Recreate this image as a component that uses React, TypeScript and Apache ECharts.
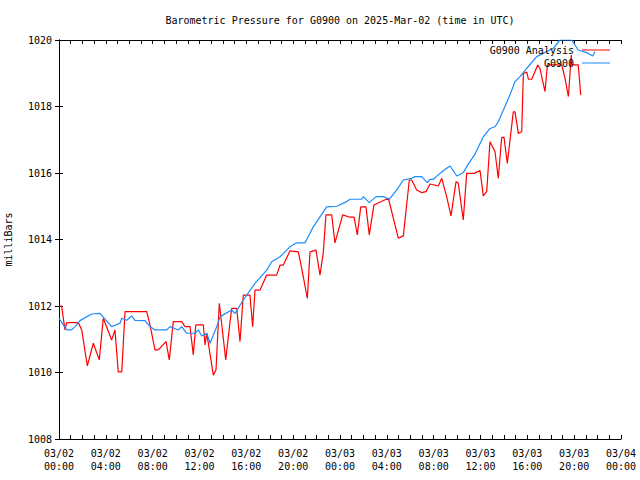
import React, { useEffect, useRef } from "react";
import * as echarts from "echarts";

// Hours since 2025-03-02 00:00 UTC and pressure in milliBars
const analysisHours = [
  0, 0.23, 0.37, 0.51, 0.66, 1.65, 1.94, 2.42, 2.93, 3.44, 3.78, 4.5, 4.78, 5.06, 5.36, 5.64,
  7.49, 7.77, 8.2, 8.48, 9.14, 9.42, 9.76, 10.48, 10.76, 11.19, 11.47, 11.68, 12.33, 12.47,
  12.62, 13.18, 13.41, 13.69, 13.81, 14.24, 14.61, 14.75, 15.18, 15.46, 15.74, 16.31, 16.54,
  16.74, 17.17, 17.74, 18.59, 18.88, 19.16, 19.73, 20.44, 20.73, 21.21, 21.44, 21.95, 22.29,
  22.57, 22.8, 23.29, 23.57, 24.23, 24.85, 25.2, 25.48, 25.77, 26.22, 26.5, 26.9, 28.13, 28.98,
  29.41, 29.92, 30.12, 30.55, 30.98, 31.35, 31.69, 32.4, 32.69, 33.11, 33.48, 33.91, 34.1,
  34.53, 34.82, 35.45, 35.96, 36.24, 36.53, 36.81, 37.24, 37.52, 37.81, 38.01, 38.29, 38.8,
  38.95, 39.23, 39.52, 39.66, 39.95, 40.09, 40.38, 40.89, 41.08, 41.51, 41.71, 42.94, 43.22,
  43.51, 43.75, 43.79, 44.35, 44.56,
];
const analysisValues = [
  1012.0, 1012.0, 1011.63, 1011.28, 1011.5, 1011.5, 1011.28, 1010.2, 1010.88, 1010.38, 1011.63,
  1010.98, 1011.28, 1010.02, 1010.02, 1011.83, 1011.83, 1011.43, 1010.68, 1010.68, 1010.93,
  1010.38, 1011.53, 1011.53, 1011.38, 1011.38, 1010.53, 1011.43, 1011.43, 1010.83, 1011.18,
  1009.92, 1010.08, 1012.08, 1011.73, 1010.38, 1011.53, 1011.93, 1011.93, 1010.93, 1012.33,
  1012.33, 1011.38, 1012.48, 1012.48, 1012.93, 1012.93, 1013.23, 1013.23, 1013.66, 1013.63,
  1013.13, 1012.23, 1013.63, 1013.68, 1012.93, 1013.6, 1014.74, 1014.74, 1013.9, 1014.74,
  1014.67, 1014.67, 1014.14, 1014.98, 1014.98, 1014.14, 1015.04, 1015.24, 1014.04, 1014.11,
  1015.79, 1015.79, 1015.49, 1015.41, 1015.44, 1015.67, 1015.61, 1015.84, 1015.29, 1014.71,
  1015.74, 1015.7, 1014.59, 1015.99, 1015.99, 1016.07, 1015.31, 1015.44, 1016.94, 1016.64,
  1015.84, 1017.07, 1017.07, 1016.29, 1017.84, 1017.84, 1017.19, 1017.24, 1018.99, 1019.04,
  1018.82, 1018.82, 1019.25, 1019.14, 1018.45, 1019.25, 1019.25, 1018.85, 1018.3, 1019.55,
  1019.25, 1019.25, 1018.35,
];

const stationHours = [
  0, 0.66, 1.08, 1.37, 1.79, 2.79, 3.5, 4.5, 5.21, 5.36, 5.78, 6.21, 6.49, 7.35, 7.77, 8.2,
  9.2, 9.48, 10.19, 10.48, 10.91, 11.62, 11.9, 12.19, 12.62, 12.9, 13.47, 13.76, 14.75, 15.03,
  15.74, 16.74, 17.74, 18.17, 18.88, 19.73, 20.3, 21.01, 21.72, 22.86, 23.72, 24.57, 24.85,
  25.85, 25.99, 26.5, 27.08, 27.7, 28.21, 28.84, 29.41, 30.12, 30.41, 30.98, 31.46, 31.69,
  31.97, 32.54, 33.11, 33.4, 33.97, 34.53, 34.82, 35.53, 36.24, 36.81, 37.24, 37.52, 37.95,
  38.52, 38.95, 39.37, 39.95, 40.8, 42.22, 42.79, 43.79, 44.35, 45.07, 45.58, 45.78,
];
const stationValues = [
  1011.63, 1011.28, 1011.28, 1011.38, 1011.56, 1011.76, 1011.78, 1011.38, 1011.48, 1011.63,
  1011.57, 1011.7, 1011.57, 1011.56, 1011.38, 1011.28, 1011.28, 1011.38, 1011.28, 1011.38,
  1011.18, 1011.18, 1011.28, 1011.1, 1011.18, 1010.88, 1011.38, 1011.68, 1011.88, 1011.78,
  1012.18, 1012.68, 1013.08, 1013.33, 1013.48, 1013.78, 1013.9, 1013.9, 1014.38, 1014.98,
  1015.0, 1015.14, 1015.21, 1015.21, 1015.29, 1015.11, 1015.29, 1015.29, 1015.21, 1015.49,
  1015.79, 1015.84, 1015.89, 1015.89, 1015.71, 1015.81, 1015.81, 1015.99, 1016.14, 1016.21,
  1015.91, 1016.01, 1016.19, 1016.57, 1017.09, 1017.34, 1017.39, 1017.54, 1017.89, 1018.35,
  1018.75, 1018.9, 1019.15, 1019.5, 1019.75, 1020.0, 1020.0, 1019.7, 1019.62, 1019.52, 1019.65,
];

const xTickLabels = [
  "03/02\n00:00", "03/02\n04:00", "03/02\n08:00", "03/02\n12:00", "03/02\n16:00",
  "03/02\n20:00", "03/03\n00:00", "03/03\n04:00", "03/03\n08:00", "03/03\n12:00",
  "03/03\n16:00", "03/03\n20:00", "03/04\n00:00",
];
const yTickLabels = ["1008", "1010", "1012", "1014", "1016", "1018", "1020"];

const titleText = "Barometric Pressure for G0900 on 2025-Mar-02 (time in UTC)";
const FONT = "DejaVu Sans Mono";

export default function App() {
  const ref = useRef<HTMLDivElement>(null);
  useEffect(() => {
    if (!ref.current) return;
    const chart = echarts.init(ref.current, undefined, { renderer: "svg" });
    const zip = (xs: number[], ys: number[]) => xs.map((x, i) => [x, ys[i]]);
    const tickCommon = {
      axisLine: { show: true, lineStyle: { color: "#000", width: 1 } },
      axisTick: { show: true, inside: true, length: 4, lineStyle: { color: "#000" } },
      splitLine: { show: false },
    };
    const xBase = {
      type: "value",
      min: 0,
      max: 48,
      interval: 4,
      ...tickCommon,
      minorTick: { show: true, splitNumber: 4, length: 4, lineStyle: { color: "#000" } },
      minorSplitLine: { show: false },
    };
    const yBase = {
      type: "value",
      min: 1008,
      max: 1020,
      interval: 2,
      ...tickCommon,
    };
    chart.setOption({
      animation: false,
      backgroundColor: "#fff",
      textStyle: { fontFamily: FONT },
      grid: {
        left: 59,
        right: 19,
        top: 40,
        bottom: 41,
        containLabel: false,
        outerBoundsMode: "none",
      },
      graphic: [
        {
          type: "text",
          x: 340,
          y: 20,
          style: {
            text: titleText,
            textAlign: "center",
            textVerticalAlign: "middle",
            font: `10px "${FONT}"`,
            fill: "#000",
          },
        },
      ],
      legend: [
        {
          data: ["G0900 Analysis"],
          right: 30,
          top: 45,
          padding: 0,
          align: "right",
          icon: "rect",
          itemWidth: 28,
          itemHeight: 1,
          textStyle: { fontFamily: FONT, fontSize: 10, color: "#000", padding: [0, 3, 0, 0] },
        },
        {
          data: ["G0900"],
          right: 30,
          top: 58,
          padding: 0,
          align: "right",
          icon: "rect",
          itemWidth: 28,
          itemHeight: 1,
          textStyle: { fontFamily: FONT, fontSize: 10, color: "#000", padding: [0, 3, 0, 0] },
        },
      ],
      xAxis: [
        {
          ...xBase,
          position: "bottom",
          axisLabel: {
            show: true,
            margin: 8,
            fontFamily: FONT,
            fontSize: 10,
            lineHeight: 13,
            color: "#000",
            formatter: (v: number) => xTickLabels[Math.round(v / 4)] ?? "",
          },
        },
        { ...xBase, position: "top", axisLabel: { show: false } },
      ],
      yAxis: [
        {
          ...yBase,
          position: "left",
          name: "milliBars",
          nameLocation: "middle",
          nameGap: 46,
          nameRotate: 90,
          nameTextStyle: { fontFamily: FONT, fontSize: 10, color: "#000" },
          axisLabel: {
            show: true,
            margin: 7,
            fontFamily: FONT,
            fontSize: 10,
            color: "#000",
            formatter: (v: number) => yTickLabels[Math.round((v - 1008) / 2)] ?? "",
          },
        },
        { ...yBase, position: "right", axisLabel: { show: false } },
      ],
      series: [
        {
          name: "G0900 Analysis",
          type: "line",
          xAxisIndex: 0,
          yAxisIndex: 0,
          data: zip(analysisHours, analysisValues),
          showSymbol: false,
          symbol: "none",
          color: "#ff0000",
          lineStyle: { color: "#ff0000", width: 1.2 },
        },
        {
          name: "G0900",
          type: "line",
          xAxisIndex: 0,
          yAxisIndex: 0,
          data: zip(stationHours, stationValues),
          showSymbol: false,
          symbol: "none",
          color: "#1a8cff",
          lineStyle: { color: "#1a8cff", width: 1.2 },
        },
      ],
    });
    return () => chart.dispose();
  }, []);
  return (
    <div
      ref={ref}
      style={{ position: "fixed", left: 0, top: 0, width: 640, height: 480, background: "#fff" }}
    />
  );
}
